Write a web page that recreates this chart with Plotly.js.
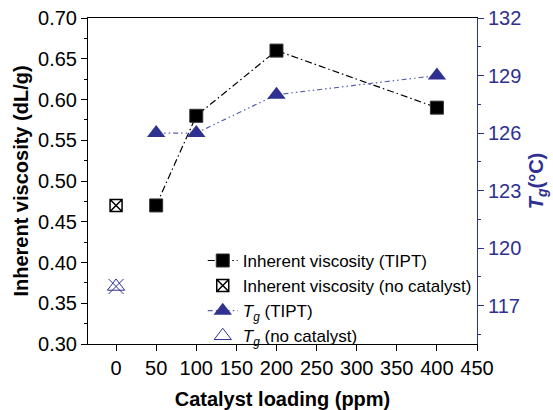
<!DOCTYPE html>
<html>
<head>
<meta charset="utf-8">
<script src="https://cdn.plot.ly/plotly-3.0.1.min.js"></script>
<style>html,body{margin:0;padding:0;background:#fff;}</style>
</head>
<body>
<div id="chart" style="width:553px;height:410px;"></div>
<script>
// Data
const loadingTIPT = [50, 100, 200, 400];
const viscosityTIPT = [0.47, 0.58, 0.66, 0.59];
const loadingNoCat = [0];
const viscosityNoCat = [0.47];
const tgTIPT = [126, 126, 128, 129];
const tgNoCat = [118];

const blue = '#2E3192';
const font = 'Arial, "Liberation Sans", sans-serif';

const traces = [
  {
    x: loadingTIPT, y: viscosityTIPT, type: 'scatter', mode: 'lines+markers',
    name: 'Inherent viscosity (TIPT)',
    line: {color: '#000', width: 1.2, dash: '7px,3px,1.5px,3px'},
    marker: {symbol: 'square', size: 13, color: '#000', line: {color: '#333', width: 1}},
    yaxis: 'y'
  },
  {
    x: loadingNoCat, y: viscosityNoCat, type: 'scatter', mode: 'markers',
    name: 'Inherent viscosity (no catalyst)',
    marker: {symbol: 'square-x-open', size: 12, color: '#000', line: {color: '#000', width: 1.5}},
    yaxis: 'y'
  },
  {
    x: loadingTIPT, y: tgTIPT, type: 'scatter', mode: 'lines+markers',
    name: '<i>T</i><sub><i>g</i></sub> (TIPT)',
    line: {color: '#5a5fb0', width: 1.2, dash: '5px,3px,1.5px,3px,1.5px,3px'},
    marker: {symbol: 'triangle-up', size: 16, color: blue},
    yaxis: 'y2'
  },
  {
    x: loadingNoCat, y: tgNoCat, type: 'scatter', mode: 'markers',
    name: '<i>T</i><sub><i>g</i></sub> (no catalyst)',
    marker: {symbol: 'triangle-up-open', size: 15, color: blue, line: {color: blue, width: 1}},
    yaxis: 'y2'
  },
  {
    x: loadingNoCat, y: tgNoCat, type: 'scatter', mode: 'markers',
    showlegend: false, hoverinfo: 'skip',
    marker: {symbol: 'x-thin-open', size: 15, color: blue, line: {color: blue, width: 1}},
    yaxis: 'y2'
  }
];

const layout = {
  width: 553, height: 410,
  margin: {l: 88, r: 76, t: 18, b: 66},
  paper_bgcolor: '#fff', plot_bgcolor: '#fff',
  font: {family: font, size: 20, color: '#000'},
  showlegend: true,
  legend: {
    x: 0.295, y: 0.31, xanchor: 'left', yanchor: 'top',
    bgcolor: 'rgba(0,0,0,0)', borderwidth: 0,
    font: {family: font, size: 17, color: '#000'},
    tracegroupgap: 0, itemsizing: 'trace'
  },
  xaxis: {
    range: [-35, 450], dtick: 50, tick0: 0,
    showline: true, linecolor: '#000', linewidth: 1, mirror: true,
    ticks: 'outside', ticklen: 6, tickcolor: '#000',
    showgrid: false, zeroline: false,
    tickfont: {size: 20, family: font},
    title: {text: '<b>Catalyst loading (ppm)</b>', font: {size: 20, family: font}, standoff: 16}
  },
  yaxis: {
    range: [0.30, 0.70], dtick: 0.05, tick0: 0.30, tickformat: '.2f',
    showline: true, linecolor: '#000', linewidth: 1,
    ticks: 'outside', ticklen: 6, tickcolor: '#000',
    minor: {dtick: 0.025, ticks: 'outside', ticklen: 3, tickcolor: '#000'},
    showgrid: false, zeroline: false,
    tickfont: {size: 20, family: font},
    title: {text: '<b>Inherent viscosity (dL/g)</b>', font: {size: 20, family: font}, standoff: 4}
  },
  yaxis2: {
    overlaying: 'y', side: 'right',
    range: [115, 132], dtick: 3, tick0: 0,
    showline: true, linecolor: blue, linewidth: 1,
    ticks: 'outside', ticklen: 6, tickcolor: blue,
    minor: {dtick: 1.5, ticks: 'outside', ticklen: 3, tickcolor: blue},
    showgrid: false, zeroline: false,
    tickfont: {size: 20, family: font, color: blue},
    title: {text: '<b><i>T</i><sub><i>g</i></sub>(°C)</b>', font: {size: 20, family: font, color: blue}, standoff: 8}
  }
};

Plotly.newPlot('chart', traces, layout, {displayModeBar: false, staticPlot: true});
</script>
</body>
</html>
